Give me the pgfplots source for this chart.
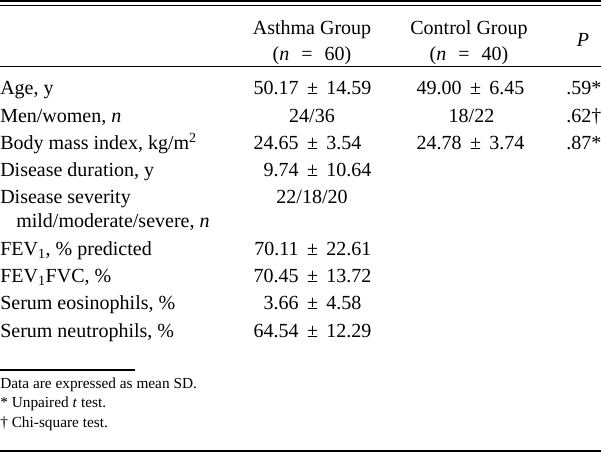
\documentclass[border=0pt]{standalone}
\usepackage{fontspec}
\setmainfont{Liberation Serif}
\usepackage{pgfplots}
\pgfplotsset{compat=1.18}
\newcommand{\mainfs}{\fontsize{15}{18}\selectfont}
\newcommand{\footfs}{\fontsize{11.5}{14}\selectfont}
\tikzset{
  lab/.style={anchor=base west, inner sep=0pt, font=\mainfs},
  ctr/.style={anchor=base, inner sep=0pt, font=\mainfs},
  rgt/.style={anchor=base east, inner sep=0pt, font=\mainfs},
  fn/.style={anchor=base west, inner sep=0pt, font=\footfs},
}
% asthma cell: y, left, right
\newcommand{\acell}[3]{%
  \node[rgt] at (axis cs:299,#1) {#2};
  \node[ctr] at (axis cs:312.5,#1) {±};
  \node[lab] at (axis cs:326,#1) {#3};}
\newcommand{\ccell}[3]{%
  \node[rgt] at (axis cs:462,#1) {#2};
  \node[ctr] at (axis cs:475.5,#1) {±};
  \node[lab] at (axis cs:489,#1) {#3};}
\begin{document}
\begin{tikzpicture}
\useasboundingbox (0,0) rectangle (450.75pt,339.75pt);
\begin{axis}[scale only axis, width=450.75pt, height=339.75pt,
  xmin=0, xmax=601, ymin=0, ymax=453, y dir=reverse,
  hide axis, clip=false]
% rules
\draw[line width=1.8pt] (axis cs:0,1.2) -- (axis cs:601,1.2);
\draw[line width=1.05pt] (axis cs:0,5.5) -- (axis cs:601,5.5);
\draw[line width=1.05pt] (axis cs:0,66.7) -- (axis cs:601,66.7);
\draw[line width=1.05pt] (axis cs:0,370) -- (axis cs:135,370);
\draw[line width=1.9pt] (axis cs:0,451) -- (axis cs:601,451);
% header
\node[ctr] at (axis cs:312,35) {Asthma Group};
\node[ctr] at (axis cs:312,61) {(\textit{n}\hspace{0.6em}=\hspace{0.6em}60)};
\node[ctr] at (axis cs:469,35) {Control Group};
\node[ctr] at (axis cs:469,61) {(\textit{n}\hspace{0.6em}=\hspace{0.6em}40)};
\node[ctr] at (axis cs:583,47) {\textit{P}};
% row labels
\node[lab] at (axis cs:0,95) {Age, y};
\node[lab] at (axis cs:0,122.25) {Men/women, \textit{n}};
\node[lab] at (axis cs:0,149.5) {Body mass index, kg/m\textsuperscript{2}};
\node[lab] at (axis cs:0,176.75) {Disease duration, y};
\node[lab] at (axis cs:0,204) {Disease severity};
\node[lab] at (axis cs:16,228) {mild/moderate/severe, \textit{n}};
\node[lab] at (axis cs:0,255.25) {FEV\textsubscript{1}, \% predicted};
\node[lab] at (axis cs:0,282.5) {FEV\textsubscript{1}FVC, \%};
\node[lab] at (axis cs:0,309.75) {Serum eosinophils, \%};
\node[lab] at (axis cs:0,337) {Serum neutrophils, \%};
% asthma values
\acell{95}{50.17}{14.59}
\node[ctr] at (axis cs:312,122.25) {24/36};
\acell{149.5}{24.65}{3.54}
\acell{176.75}{9.74}{10.64}
\node[ctr] at (axis cs:312,204) {22/18/20};
\acell{255.25}{70.11}{22.61}
\acell{282.5}{70.45}{13.72}
\acell{309.75}{3.66}{4.58}
\acell{337}{64.54}{12.29}
% control values
\ccell{95}{49.00}{6.45}
\node[ctr] at (axis cs:471.5,122.25) {18/22};
\ccell{149.5}{24.78}{3.74}
% p values
\node[lab] at (axis cs:566,95) {.59*};
\node[lab] at (axis cs:566,122.25) {.62†};
\node[lab] at (axis cs:566,149.5) {.87*};
% footnotes
\node[fn] at (axis cs:0,388) {Data are expressed as mean SD.};
\node[fn] at (axis cs:0,407.5) {* Unpaired \textit{t} test.};
\node[fn] at (axis cs:0,427) {† Chi-square test.};
\end{axis}
\end{tikzpicture}
\end{document}
